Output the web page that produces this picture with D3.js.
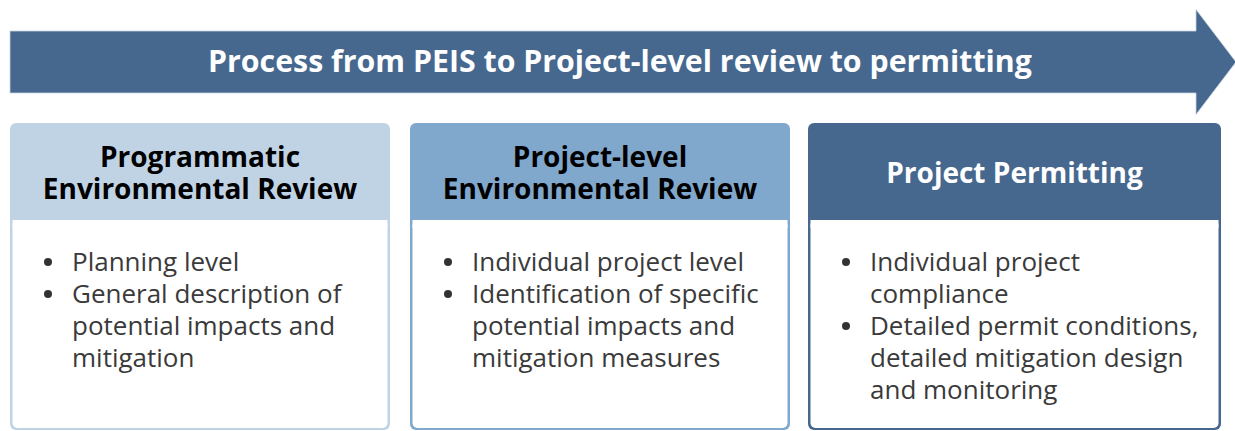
<!DOCTYPE html>
<html>
<head>
<meta charset="utf-8">
<script src="https://cdn.jsdelivr.net/npm/d3@7"></script>
<style>
  html, body { margin: 0; padding: 0; background: #fff; }
  svg { display: block; font-family: "Open Sans", sans-serif; }
</style>
</head>
<body>
<div class="D3Graph"></div>
<script>
// content
const arrowTitle = "Process from PEIS to Project-level review to permitting"
const stages = ["Programmatic|Environmental Review", "Project-level|Environmental Review", "Project Permitting"]
const stageColors = ["#bfd3e5", "#80a7cc", "#46688f"]
const stageText = ["#000", "#000", "#fff"]
const bullets = [
	[["Planning level"], ["General description of", "potential impacts and", "mitigation"]],
	[["Individual project level"], ["Identification of specific", "potential impacts and", "mitigation measures"]],
	[["Individual project", "compliance"], ["Detailed permit conditions,", "detailed mitigation design", "and monitoring"]]
]

const width = 1235
const height = 431

// layout
const boxX = [10, 410, 808]
const boxW = [380, 380, 413]
const boxTop = 123
const headH = 97
const boxBottom = 431

let svg = d3.select(".D3Graph")
	.append("svg")
	.attr("width", width)
	.attr("height", height)

// arrow
const ay = d3.scaleLinear().domain([0, 1]).range([31, 93])
const arrow = d3.path()
arrow.moveTo(10, ay(0))
arrow.lineTo(1196, ay(0))
arrow.lineTo(1196, 9.5)
arrow.lineTo(1236, 62)
arrow.lineTo(1196, 114.5)
arrow.lineTo(1196, ay(1))
arrow.lineTo(10, ay(1))
arrow.closePath()

svg.append("path")
	.attr("d", arrow.toString())
	.attr("fill", "#46688f")
	.attr("stroke", "#c5d3e2")
	.attr("stroke-width", 0.8)

svg.append("text")
	.attr("x", 620)
	.attr("y", 72)
	.attr("text-anchor", "middle")
	.attr("font-size", "30.3px")
	.attr("font-weight", "bold")
	.attr("fill", "#fff")
	.text(arrowTitle)

// boxes
let g = svg.selectAll("g.stage")
	.data(stages)
	.enter()
	.append("g")
	.attr("class", "stage")
	.attr("transform", function(d, i){return "translate(" + boxX[i] + ", " + boxTop + ")"})

g.append("rect")
	.attr("width", function(d, i){return boxW[i]})
	.attr("height", boxBottom - boxTop - 1)
	.attr("rx", 6)
	.attr("fill", function(d, i){return stageColors[i]})

g.append("rect")
	.attr("x", 2.5)
	.attr("y", headH)
	.attr("width", function(d, i){return boxW[i] - 5})
	.attr("height", boxBottom - boxTop - headH - 3)
	.attr("rx", 5)
	.attr("fill", "#fff")

g.append("rect")
	.attr("x", 2.5)
	.attr("y", headH)
	.attr("width", function(d, i){return boxW[i] - 5})
	.attr("height", 8)
	.attr("fill", "#fff")

// headings
g.each(function(d, i){
	const lines = d.split("|")
	const top = lines.length == 1 ? 60 : 44
	const t = d3.select(this).append("text")
		.attr("text-anchor", "middle")
		.attr("font-size", "28px")
		.attr("font-weight", "bold")
		.attr("fill", stageText[i])
	lines.forEach(function(l, j){
		t.append("tspan")
			.attr("x", boxW[i] / 2)
			.attr("y", top + j * 32)
			.text(l)
	})

	// bullet list
	let row = 0
	const b = d3.select(this)
	bullets[i].forEach(function(item){
		b.append("circle")
			.attr("cx", 38)
			.attr("cy", 148 + row * 32 - 9)
			.attr("r", 4)
			.attr("fill", "#333")
		item.forEach(function(l){
			b.append("text")
				.attr("x", 62)
				.attr("y", 148 + row * 32)
				.attr("font-size", "26px")
				.attr("fill", "#3a3a3a")
				.text(l)
			row++
		})
	})
})
</script>
</body>
</html>
